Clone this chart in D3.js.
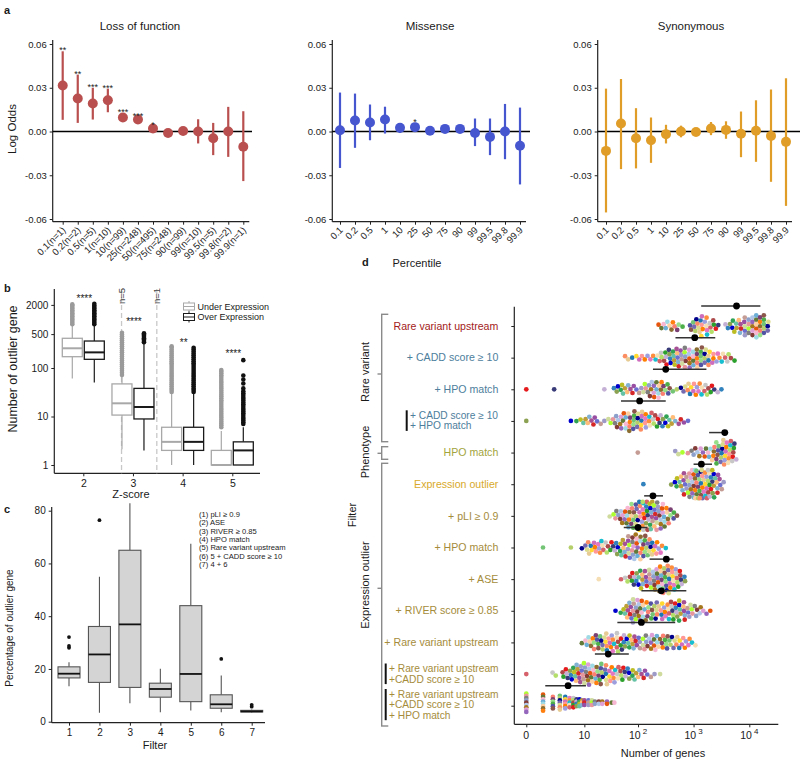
<!DOCTYPE html>
<html><head><meta charset="utf-8">
<script src="https://cdn.jsdelivr.net/npm/d3@7"></script>
<style>
body{margin:0;background:#fff}
svg text{font-family:"Liberation Sans",Arimo,Arial,Helvetica,sans-serif;fill:#1a1a1a}
</style>
</head><body>
<svg id="chart" width="800" height="762" font-family="Liberation Sans, Arimo, Arial, Helvetica, sans-serif"></svg>
<script>
// ================= DATA =================
// Panel a
const percentiles = ["0.1","0.2","0.5","1","10","25","50","75","90","99","99.5","99.8","99.9"];
const lofN = [1,2,5,10,99,248,495,248,99,10,5,2,1];
const lofEst = [0.0315,0.0226,0.0192,0.0214,0.0096,0.0082,0.0020,-0.0010,0.0004,0.0000,-0.0046,0.0000,-0.0105];
const lofLo  = [0.0080,0.0059,0.0082,0.0132,0.0075,0.0062,0.0002,-0.0030,-0.0020,-0.0082,-0.0162,-0.0174,-0.0340];
const lofHi  = [0.0550,0.0390,0.0300,0.0294,0.0125,0.0100,0.0040,0.0010,0.0030,0.0084,0.0059,0.0169,0.0139];
const lofStars = ["**","**","***","***","***","***","*","","","","","",""];
const misEst = [0.0009,0.0075,0.0062,0.0082,0.0025,0.0030,0.0005,0.0018,0.0018,-0.0010,-0.0037,0.0000,-0.0098];
const misLo  = [-0.0250,-0.0112,-0.0060,-0.0014,-0.0010,0.0005,-0.0015,-0.0005,-0.0010,-0.0100,-0.0162,-0.0190,-0.0363];
const misHi  = [0.0267,0.0260,0.0185,0.0170,0.0055,0.0055,0.0025,0.0040,0.0045,0.0089,0.0089,0.0189,0.0164];
const misStars = ["","","","","","*","","","","","","",""];
const synEst = [-0.0133,0.0055,-0.0046,-0.0060,-0.0018,0.0000,-0.0003,0.0020,0.0011,-0.0016,0.0005,-0.0030,-0.0071];
const synLo  = [-0.0555,-0.0258,-0.0253,-0.0215,-0.0082,-0.0040,-0.0025,-0.0025,-0.0050,-0.0176,-0.0208,-0.0345,-0.0510];
const synHi  = [0.0294,0.0360,0.0160,0.0096,0.0046,0.0040,0.0020,0.0065,0.0070,0.0137,0.0214,0.0288,0.0365];
const synStars = ["","","","","","","","","","","","",""];
const logOddsTicks = [-0.06,-0.03,0,0.03,0.06];

// Panel b
const zScores = [2,3,4,5];
const underStats = [
  {lo:61,q1:171,med:255,q3:410,hi:770},
  {lo:2.1,q1:10.7,med:18.7,q3:47,hi:70},
  {lo:1,q1:2,med:3,q3:6,hi:30},
  {lo:1,q1:1,med:1,q3:2,hi:5}];
const overStats = [
  {lo:50,q1:151,med:210,q3:360,hi:780},
  {lo:2,q1:8.9,med:15.7,q3:38,hi:330},
  {lo:1,q1:2,med:3,q3:6,hi:30},
  {lo:1,q1:1,med:2,q3:3,hi:6}];
const underOutliers = [
  [800,860,930,1000,1080,1160,1250,1350,1450,1560,1680,1800,1950,2050],
  [72,80,88,97,107,118,130,143,157,173,190,210,230,255,280,310,340,375,410,450,490,530],
  [32,35,38,42,46,50,55,60,66,72,79,87,95,105,115,126,138,152,167,183,200,220,242,265,280],
  [6,6.6,7.2,7.9,8.7,9.5,10.4,11.4,12.5,13.7,15,16.5,18,19.8,21.7,23.8,26,28.5,31.3,34.3,37.6,41.2,45,49.5,54,59,65,71,78,85,91]];
const overOutliers = [
  [800,860,930,1000,1080,1160,1250,1350,1450,1560,1680,1800,1950,2100],
  [340,360,385,410,435,460,490,520],
  [32,35,38,42,46,50,55,60,66,72,79,87,95,105,115,126,138,152,167,183,200,220,240,260],
  [7,7.6,8.3,9,9.8,10.7,11.6,12.7,13.8,15,16.4,17.9,19.5,21.3,23.2,25.3,27.6,30,33,38,48,58,70,145]];
const bStars = ["****","****","**","****"];
const bTicks = [1,10,100,500,2000];
const bCutoffs = [{z:2.77,label:"n=5"},{z:3.48,label:"n=1"}];

// Panel c
const filterIds = [1,2,3,4,5,6,7];
const filterLo  = [13.4,3.4,7.0,3.6,4.2,3.6,3.5];
const filterQ1  = [16.6,14.9,13.0,9.3,7.6,5.1,3.7];
const filterMed = [18.2,25.5,36.9,12.4,18.1,6.6,3.9];
const filterQ3  = [20.8,36.1,65.0,14.6,44.0,10.2,4.3];
const filterHi  = [22.5,55.0,82.8,20.1,67.5,17.5,4.6];
const filterOut = [[28.0,28.7,32.1],[76.4],[],[],[],[23.8],[5.7,6.4]];
const filterLegend = ["(1) pLI \u2265 0.9","(2) ASE","(3) RIVER \u2265 0.85","(4) HPO match","(5) Rare variant upstream","(6) 5 + CADD score \u2265 10","(7) 4 + 6"];
const cTicks = [0,20,40,60,80];

// Panel d
const dLabels = [
  ["Rare variant upstream"],["+ CADD score \u2265 10"],["+ HPO match"],["+ CADD score \u2265 10","+ HPO match"],
  ["HPO match"],["Expression outlier"],["+ pLI \u2265 0.9"],["+ HPO match"],["+ ASE"],["+ RIVER score \u2265 0.85"],
  ["+ Rare variant upstream"],["+ Rare variant upstream","+CADD score \u2265 10"],["+ Rare variant upstream","+CADD score \u2265 10","+ HPO match"]];
const dLabelColors = ["#a31a1a","#4d7e9c","#4d7e9c","#4d7e9c","#a2a43c","#d8a92a","#a58c3b","#a58c3b","#a58c3b","#a58c3b","#a58c3b","#a58c3b","#a58c3b"];
const dMean = [5900,1050,316,107,3630,1380,186,100,324,263,115,28.5,4.62];
const dCiLo = [1370,473,186,49,1900,1000,129,55,162,115,42,16,1.19];
const dCiHi = [15800,2450,1700,316,4170,2140,282,148,437,741,468,68,10.75];
// per-sample counts, histogrammed in bins of 0.1 on log10(genes+1), starting at dBinStart
const dBinStart = [2.4,1.8,0.0,0.0,2.0,2.1,1.5,0.3,1.3,1.6,1.0,0.0];
const dBinCounts = [
  [2,3,3,3,1,0,5,7,6,5,3,0,2,4,4,6,7,8,9,5],
  [2,1,2,2,2,2,3,5,6,7,7,6,7,7,6,5,3,3,3,2],
  [1,0,0,0,0,1,0,0,0,0,0,0,0,0,1,0,2,4,3,3,2,3,5,6,6,4,2,1,2,4,4,4,4,3,2,1],
  [1,0,0,0,0,0,0,0,1,1,2,3,3,2,1,2,4,5,6,7,7,6,5,4,4,4,3,2,2,1],
  [1,0,0,0,0,0,0,2,1,1,3,3,3,4,6,9,12,6],
  [1,0,0,0,0,1,3,6,8,12,14,13,11,7,3],
  [1,3,4,6,9,10,12,12,11,9,6,4,1],
  [1,0,0,0,0,1,0,1,4,4,5,4,3,4,5,7,9,9,8,6,5,3,1],
  [1,0,0,0,1,2,4,6,6,6,7,10,11,10,7,4],
  [1,1,5,8,9,7,5,5,6,6,7,7,6,5,4,3,2,1],
  [1,3,5,6,6,6,6,5,5,5,4,5,5,5,5,5,4,4,4,3,2],
  [1,0,0,0,0,2,0,4,5,6,7,8,8,7,6,6,5,5,4,4,3,3,2,1,1]];
// last row: exact gene counts and number of samples
const dLastGenes   = [0,1,2,3,4,5,6,7,8,9,10,12,14,16,19,22,27,33,37];
const dLastSamples = [9,8,6,7,6,5,5,4,4,3,3,3,3,2,2,2,2,1,1];
const dTicks = [0,10,100,1000,10000];
const dTickLabels = [["0",""],["10",""],["10","2"],["10","3"],["10","4"]];

// ================= DRAW =================
const FONT = '"Liberation Sans", Arimo, Arial, Helvetica, sans-serif';
const svg = d3.select("#chart");
const col = "#222";
function styleAxis(g, fs){
  g.select(".domain").remove();
  g.attr("font-family", null);
  g.selectAll(".tick line").attr("stroke", col);
  g.selectAll(".tick text").style("font-size", fs+"px").style("font-family", FONT).attr("fill", col);
}
function vline(x, y1, y2, w=1.2, c=col){ svg.append("line").attr("x1",x).attr("x2",x).attr("y1",y1).attr("y2",y2).attr("stroke",c).attr("stroke-width",w); }
function hline(y, x1, x2, w=1.2, c=col){ svg.append("line").attr("x1",x1).attr("x2",x2).attr("y1",y).attr("y2",y).attr("stroke",c).attr("stroke-width",w); }
function label(x,y,s,fs,opts={}){
  const t = svg.append("text").attr("x",x).attr("y",y).text(s).style("font-size",fs+"px").style("font-family",FONT);
  if(opts.anchor) t.attr("text-anchor",opts.anchor);
  if(opts.weight) t.style("font-weight",opts.weight);
  if(opts.rot!==undefined) t.attr("transform",`rotate(${opts.rot},${x},${y})`);
  if(opts.fill) t.style("fill",opts.fill);
  return t;
}

// ---- Panel a ----
label(4,14,"a",11,{weight:"bold"});
const yA = d3.scaleLinear().domain([-0.06,0.06]).range([219,44]);
const aPanels = [
  {title:"Loss of function", labels: percentiles.map((p,i)=>`${p}(n=${lofN[i]})`), est:lofEst, lo:lofLo, hi:lofHi, stars:lofStars, color:"#b9504f", ax:52.7, x0:62.7, x1:243.3, zr:252, tx:140},
  {title:"Missense", labels: percentiles, est:misEst, lo:misLo, hi:misHi, stars:misStars, color:"#4656cf", ax:332.3, x0:340, x1:520, zr:530, tx:430},
  {title:"Synonymous", labels: percentiles, est:synEst, lo:synLo, hi:synHi, stars:synStars, color:"#e09d28", ax:597.7, x0:606, x1:786, zr:800, tx:691}
];
aPanels.forEach(p=>{
  const x = d3.scalePoint().domain(d3.range(p.labels.length)).range([p.x0,p.x1]);
  const ga = svg.append("g").attr("transform",`translate(${p.ax},0)`)
    .call(d3.axisLeft(yA).tickValues(logOddsTicks).tickFormat(d=>d.toFixed(2)).tickSize(3).tickPadding(3));
  styleAxis(ga, 9.5);
  vline(p.ax, 40, 221.7);
  const gx = svg.append("g").attr("transform",`translate(0,221.7)`)
    .call(d3.axisBottom(x).tickFormat(i=>p.labels[i]).tickSize(3));
  styleAxis(gx, 9.5);
  gx.selectAll(".tick text").attr("text-anchor","end").attr("dy",0).attr("y",0)
    .attr("transform","translate(3,9) rotate(-45)");
  hline(221.7, p.ax, p.x1+6);
  hline(yA(0), p.ax, p.zr, 1.5, "#000");
  const g = svg.append("g");
  g.selectAll("line.ci").data(p.est).join("line").attr("class","ci")
    .attr("x1",(d,i)=>x(i)).attr("x2",(d,i)=>x(i))
    .attr("y1",(d,i)=>yA(p.lo[i])).attr("y2",(d,i)=>yA(p.hi[i]))
    .attr("stroke",p.color).attr("stroke-width",2.2);
  g.selectAll("circle").data(p.est).join("circle")
    .attr("cx",(d,i)=>x(i)).attr("cy",d=>yA(d)).attr("r",5).attr("fill",p.color);
  g.selectAll("text.star").data(p.stars).join("text").attr("class","star")
    .attr("x",(d,i)=>x(i)).attr("y",(d,i)=>yA(p.hi[i])+2).attr("text-anchor","middle")
    .style("font-size","9px").style("font-family",FONT).text(d=>d);
  label(p.tx, 30, p.title, 11.5, {anchor:"middle"});
});
label(15.5,129,"Log Odds",11.5,{anchor:"middle",rot:-90});
label(417,267,"Percentile",11,{anchor:"middle"});

// ---- Panel b ----
label(4,292,"b",11,{weight:"bold"});
const yB = d3.scaleLog().domain([1,10]).range([465,416.5]);
const xB = d3.scaleLinear().domain([2,5]).range([83.3,232.3]);
const gyb = svg.append("g").attr("transform","translate(54.3,0)")
  .call(d3.axisLeft(yB).tickValues(bTicks).tickFormat(d3.format("d")).tickSize(3).tickPadding(3));
styleAxis(gyb, 10);
vline(54.3, 289, 473.3);
const gxb = svg.append("g").attr("transform","translate(0,473.3)")
  .call(d3.axisBottom(xB).tickValues(zScores).tickFormat(d3.format("d")).tickSize(3).tickPadding(3));
styleAxis(gxb, 10.5);
hline(473.3, 54.3, 260);
bCutoffs.forEach(c=>{
  svg.append("line").attr("x1",xB(c.z)).attr("x2",xB(c.z)).attr("y1",289).attr("y2",473.3)
    .attr("stroke","#c8c8c8").attr("stroke-width",1.3).attr("stroke-dasharray","5,3");
  label(xB(c.z)+3.5, 296, c.label, 9.5, {anchor:"middle", rot:-90, fill:"#444"});
});
function drawBox(cx, s, outs, stroke, outFill){
  const g = svg.append("g");
  g.append("line").attr("x1",cx).attr("x2",cx).attr("y1",yB(s.hi)).attr("y2",yB(s.q3)).attr("stroke",stroke).attr("stroke-width",1.2);
  g.append("line").attr("x1",cx).attr("x2",cx).attr("y1",yB(s.q1)).attr("y2",yB(s.lo)).attr("stroke",stroke).attr("stroke-width",1.2);
  g.selectAll("circle").data(outs).join("circle").attr("cx",cx).attr("cy",d=>yB(d)).attr("r",2.3).attr("fill",outFill);
  g.append("rect").attr("x",cx-10).attr("width",20).attr("y",yB(s.q3)).attr("height",Math.max(0.5,yB(s.q1)-yB(s.q3)))
    .attr("fill","#fff").attr("stroke",stroke).attr("stroke-width",1.3);
  g.append("line").attr("x1",cx-10).attr("x2",cx+10).attr("y1",yB(s.med)).attr("y2",yB(s.med)).attr("stroke",stroke).attr("stroke-width",2);
}
zScores.forEach((z,i)=>{
  drawBox(xB(z)-11, underStats[i], underOutliers[i], "#a8a8a8", "#9a9a9a");
  drawBox(xB(z)+11, overStats[i], overOutliers[i], "#1a1a1a", "#111");
});
const bStarY = [302.3, 325, 346, 357];
zScores.forEach((z,i)=> label(xB(z)+1, bStarY[i], bStars[i], 10, {anchor:"middle"}));
// legend
[["Under Expression","#a8a8a8",306.5],["Over Expression","#1a1a1a",317]].forEach(([t,c,cy])=>{
  svg.append("rect").attr("x",183.5).attr("y",cy-3.5).attr("width",11).attr("height",7).attr("fill","#fff").attr("stroke",c).attr("stroke-width",1);
  hline(cy,183.5,194.5,1,c);
  vline(189,cy-5.5,cy-3.5,1,c); vline(189,cy+3.5,cy+5.5,1,c);
  label(197.5, cy+3.3, t, 9);
});
label(17,369,"Number of outlier gene",12.5,{anchor:"middle",rot:-90});
label(131,498,"Z-score",11,{anchor:"middle"});

// ---- Panel c ----
label(4,513,"c",11,{weight:"bold"});
const yC = d3.scaleLinear().domain([0,80]).range([721.7,510.7]);
const xC = d3.scalePoint().domain(filterIds).range([69,251.7]);
const gyc = svg.append("g").attr("transform","translate(51.7,0)")
  .call(d3.axisLeft(yC).tickValues(cTicks).tickSize(3).tickPadding(3));
styleAxis(gyc, 10);
vline(51.7, 507, 722.7);
const gxc = svg.append("g").attr("transform","translate(0,722.7)")
  .call(d3.axisBottom(xC).tickSize(3).tickPadding(3));
styleAxis(gxc, 10);
hline(722.7, 51.7, 265);
filterIds.forEach((f,i)=>{
  const cx = xC(f), hw = 11, st = "#555";
  vline(cx, yC(filterHi[i]), yC(filterQ3[i]), 1.1, st);
  vline(cx, yC(filterQ1[i]), yC(filterLo[i]), 1.1, st);
  svg.append("rect").attr("x",cx-hw).attr("width",2*hw).attr("y",yC(filterQ3[i])).attr("height",yC(filterQ1[i])-yC(filterQ3[i]))
    .attr("fill","#d4d4d4").attr("stroke",st).attr("stroke-width",1.1);
  hline(yC(filterMed[i]), cx-hw, cx+hw, 1.8, "#111");
  svg.append("g").selectAll("circle").data(filterOut[i]).join("circle")
    .attr("cx",cx).attr("cy",d=>yC(d)).attr("r",1.9).attr("fill","#111");
});
filterLegend.forEach((t,i)=> label(199, 517 + i*8.3, t, 7.6));
label(12.5,628,"Percentage of outlier gene",10,{anchor:"middle",rot:-90});
label(155,749,"Filter",11,{anchor:"middle"});

// ---- Panel d ----
label(362,266,"d",11,{weight:"bold"});
const xL = d3.scaleLinear().domain([-0.215,4.52]).range([514.3,778.3]);
const xD = v => xL(Math.log10(v+1));
const rowIds = d3.range(dLabels.length);
const yD = d3.scalePoint().domain(rowIds).range([326,705.7]);
const gyd = svg.append("g").attr("transform","translate(514.3,0)")
  .call(d3.axisLeft(yD).tickFormat("").tickSize(3));
styleAxis(gyd, 10);
vline(514.3, 306.7, 724.3);
const gxd = svg.append("g").attr("transform","translate(0,724.3)")
  .call(d3.axisBottom(xL).tickValues(dTicks.map(v=>Math.log10(v+1))).tickFormat("").tickSize(3));
styleAxis(gxd, 10);
hline(724.3, 514.3, 778.3);
dTicks.forEach((v,i)=>{
  const t = svg.append("text").attr("x",xD(v)).attr("y",738.5).attr("text-anchor","middle").style("font-size","10.5px").style("font-family",FONT);
  t.append("tspan").text(dTickLabels[i][0]);
  if(dTickLabels[i][1]) t.append("tspan").attr("dx",2).attr("dy",-5).style("font-size","8px").text(dTickLabels[i][1]);
});
label(663,757,"Number of genes",11,{anchor:"middle"});

// row labels
dLabels.forEach((lines,i)=>{
  const y = yD(i), c = dLabelColors[i];
  if(lines.length===1){
    label(498.3, y+3.7, lines[0], 10.6, {anchor:"end", fill:c});
  } else {
    const isTop = i===3;
    const bx = isTop ? 406.7 : 385.7;
    const n = lines.length, sp = 10.6;
    const first = isTop ? 415.3 : (n===2 ? 668.5 : 694);
    lines.forEach((ln,k)=> label(bx+3.3, first + k*sp + 3.5, ln, 10.2, {fill:c}));
    vline(bx, first-5, first+(n-1)*sp+5, 2, "#111");
  }
});
// brackets
const br = "#8a8a8a";
[[314.3,441.7,374,"Rare variant",372],[446.7,459.3,453.3,"Phenotype",452],[463.3,726,588.3,"Expression outlier",585]].forEach(([t,b,m,name,ly])=>{
  vline(381.7,t,b,1.4,br); hline(t,381,388.3,1.4,br); hline(b,381,388.3,1.4,br); hline(m,377.5,381.7,1.4,br);
  label(369,ly,name,11,{anchor:"middle",rot:-90});
});
label(356,515,"Filter",11,{anchor:"middle",rot:-90});

// sample dots
const samplePalette = ["#e6550d","#3182bd","#74c476","#9e9ac8","#fd8d3c","#6baed6","#31a354","#756bb1","#e7969c","#d6616b","#8c6d31","#bd9e39","#e7cb94","#843c39","#ad494a","#7b4173","#a55194","#ce6dbd","#de9ed6","#393b79","#5254a3","#6b6ecf","#9c9ede","#637939","#8ca252","#b5cf6b","#cedb9c","#17becf","#9edae5","#bcbd22","#dbdb8d","#7f7f7f","#c7c7c7","#ff7f0e","#ffbb78","#1f77b4","#aec7e8","#2ca02c","#98df8a","#d62728","#ff9896","#9467bd","#c5b0d5","#8c564b","#c49c94","#e377c2","#f7b6d2","#0000cd","#00008b","#adff2f","#f5deb3","#fdd0a2","#66c2a5","#fc8d62","#8da0cb","#b3de69","#fb8072","#80b1d3","#ffd92f","#a6761d","#e41a1c","#4daf4a","#984ea3","#ff7f00"];
let gIdx = 0;
const dotG = svg.append("g");
dBinCounts.forEach((counts,i)=>{
  const ry = yD(i);
  const nodes = [];
  counts.forEach((c,b)=>{
    for(let j=0;j<c;j++){
      const lv = dBinStart[i] + b*0.1 + ((j+0.5)/c - 0.5)*0.1;
      const tx = xL(lv);
      nodes.push({tx, x:tx, y: ry + (j%2?1:-1)*Math.ceil(j/2)*2.2, k:gIdx++});
    }
  });
  const sim = d3.forceSimulation(nodes)
    .force("x", d3.forceX(d=>d.tx).strength(0.45))
    .force("y", d3.forceY(ry).strength(0.06))
    .force("c", d3.forceCollide(2.2).iterations(2)).stop();
  for(let t=0;t<220;t++) sim.tick();
  nodes.forEach(d=>{ d.y = Math.max(ry-14, Math.min(ry+14, d.y)); });
  dotG.append("g").selectAll("circle").data(nodes).join("circle")
    .attr("cx",d=>d.x).attr("cy",d=>d.y).attr("r",2.35)
    .attr("fill",d=>samplePalette[(d.k*23)%samplePalette.length]);
});
// last row: stacked columns
{
  const i = dLabels.length-1, ry = yD(i);
  dLastGenes.forEach((g,b)=>{
    const n = dLastSamples[b];
    const pts = d3.range(n).map(j=>({x:xD(g), y: ry-3 + (j-(n-1)/2)*2.3, k:gIdx++}));
    dotG.append("g").selectAll("circle").data(pts).join("circle")
      .attr("cx",d=>d.x).attr("cy",d=>d.y).attr("r",2.35)
      .attr("fill",d=>samplePalette[(d.k*23)%samplePalette.length]);
  });
}
// means and intervals
const mg = svg.append("g");
rowIds.forEach(i=>{
  const y = yD(i) - 20;
  mg.append("line").attr("x1",xD(dCiLo[i])).attr("x2",xD(dCiHi[i])).attr("y1",y).attr("y2",y).attr("stroke","#333").attr("stroke-width",1.5);
  mg.append("circle").attr("cx",xD(dMean[i])).attr("cy",y).attr("r",3.4).attr("fill","#000");
});
</script>
</body></html>
